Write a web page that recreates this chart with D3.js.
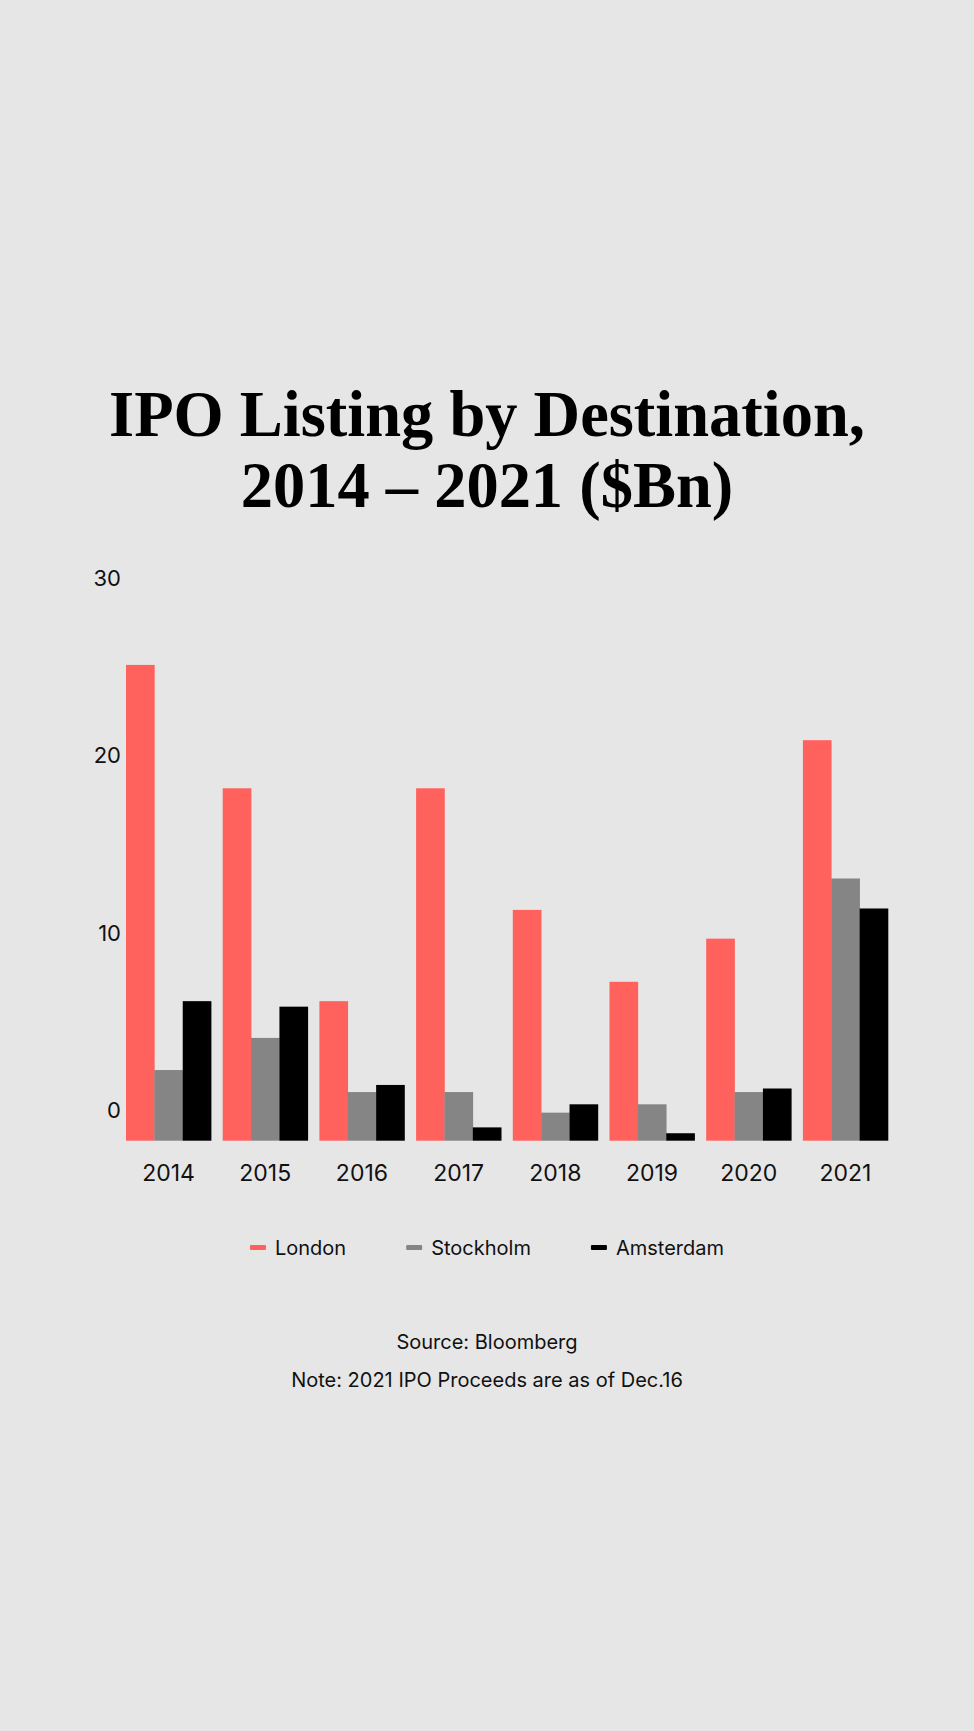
<!DOCTYPE html>
<html>
<head>
<meta charset="utf-8">
<script src="https://cdn.jsdelivr.net/npm/d3@7"></script>
<style>
  html, body { margin: 0; padding: 0; background: #e6e6e6; }
  svg { display: block; }
</style>
</head>
<body>
<div id="chart"></div>
<script>
// ---- Data ----
const years = ["2014", "2015", "2016", "2017", "2018", "2019", "2020", "2021"];
const seriesNames = ["London", "Stockholm", "Amsterdam"];
const london    = [26.8, 19.85, 7.86, 19.85, 13.0, 8.95, 11.38, 22.56];
const stockholm = [3.98, 5.79, 2.74, 2.74, 1.58, 2.05, 2.74, 14.77];
const amsterdam = [7.86, 7.55, 3.14, 0.75, 2.05, 0.42, 2.94, 13.08];
const yTicks = [0, 10, 20, 30];
const titleLines = ["IPO Listing by Destination,", "2014 – 2021 ($Bn)"];
const sourceText = "Source: Bloomberg";
const noteText = "Note: 2021 IPO Proceeds are as of Dec.16";

const seriesValues = { London: london, Stockholm: stockholm, Amsterdam: amsterdam };
const colors = { London: "#ff615d", Stockholm: "#858585", Amsterdam: "#000000" };

// ---- Layout ----
const W = 974, H = 1731;
const sans = "Inter, 'Noto Sans', sans-serif";
const serif = "'Liberation Serif', 'DejaVu Serif', serif";

const svg = d3.select("#chart").append("svg")
  .attr("width", W).attr("height", H)
  .style("background", "#e6e6e6");

svg.append("rect").attr("width", W).attr("height", H).attr("fill", "#e6e6e6");

// Title
const title = svg.append("text")
  .attr("text-anchor", "middle")
  .attr("font-family", serif)
  .attr("font-weight", "bold")
  .attr("fill", "#000")
  .attr("font-size", 100);
const t1 = title.append("tspan").attr("x", W / 2).attr("y", 436).text(titleLines[0]);
const t2 = title.append("tspan").attr("x", W / 2).attr("y", 507).text(titleLines[1]);
const len100 = t1.node().getComputedTextLength();
const fs = Math.min(66, 100 * 756 / len100);
title.attr("font-size", fs);

// Scales
const x0 = d3.scaleBand().domain(years).range([120.2, 893.8]).paddingInner(0.12).paddingOuter(0.06);
const x1 = d3.scaleBand().domain(seriesNames).range([0, x0.bandwidth()]).padding(0);
const y = d3.scaleLinear().domain([0, 30]).range([1140.7, 608.1]);

// Bars
const groups = svg.append("g").selectAll("g")
  .data(years)
  .join("g")
  .attr("transform", d => `translate(${x0(d)},0)`);

groups.selectAll("rect")
  .data((d, i) => seriesNames.map(s => ({ s, v: seriesValues[s][i] })))
  .join("rect")
  .attr("x", d => x1(d.s))
  .attr("width", x1.bandwidth() + 0.3)
  .attr("y", d => y(d.v))
  .attr("height", d => y(0) - y(d.v))
  .attr("fill", d => colors[d.s]);

// Y axis (labels sit above their value lines)
const yAxis = svg.append("g")
  .attr("transform", "translate(121,0)")
  .call(d3.axisLeft(y).tickValues(yTicks).tickSize(0).tickPadding(0).tickFormat(d3.format("d")));
yAxis.select(".domain").remove();
yAxis.selectAll("text")
  .attr("dy", null)
  .attr("y", -23)
  .attr("x", 0)
  .attr("text-anchor", "end")
  .attr("font-family", sans)
  .attr("font-size", 22)
  .attr("fill", "#111");

// X axis
const xAxis = svg.append("g")
  .attr("transform", `translate(0,${y(0)})`)
  .call(d3.axisBottom(x0).tickSize(0).tickPadding(0));
xAxis.select(".domain").remove();
xAxis.selectAll("text")
  .attr("dy", null)
  .attr("y", 40)
  .attr("font-family", sans)
  .attr("font-size", 23)
  .attr("fill", "#111");

// Legend
const legend = svg.append("g");
const items = legend.selectAll("g").data(seriesNames).join("g");
items.append("rect")
  .attr("width", 16).attr("height", 5).attr("y", -2.5).attr("rx", 1)
  .attr("fill", d => colors[d]);
items.append("text")
  .attr("x", 25)
  .attr("y", 7.5)
  .attr("font-family", sans)
  .attr("font-size", 20)
  .attr("fill", "#111")
  .text(d => d);
const widths = [];
items.each(function () {
  const w = this.querySelector("text").getComputedTextLength() + 25;
  widths.push(w);
});
const gap = 60;
const total = d3.sum(widths) + gap * (widths.length - 1);
let start = W / 2 - total / 2;
items.attr("transform", (d, i) => {
  const tx = start;
  start += widths[i] + gap;
  return `translate(${tx},1247.5)`;
});

// Source & note
svg.append("text")
  .attr("x", W / 2).attr("y", 1348.5)
  .attr("text-anchor", "middle")
  .attr("font-family", sans).attr("font-size", 20).attr("fill", "#111")
  .text(sourceText);
svg.append("text")
  .attr("x", W / 2).attr("y", 1386.7)
  .attr("text-anchor", "middle")
  .attr("font-family", sans).attr("font-size", 20).attr("fill", "#111")
  .text(noteText);
</script>
</body>
</html>
